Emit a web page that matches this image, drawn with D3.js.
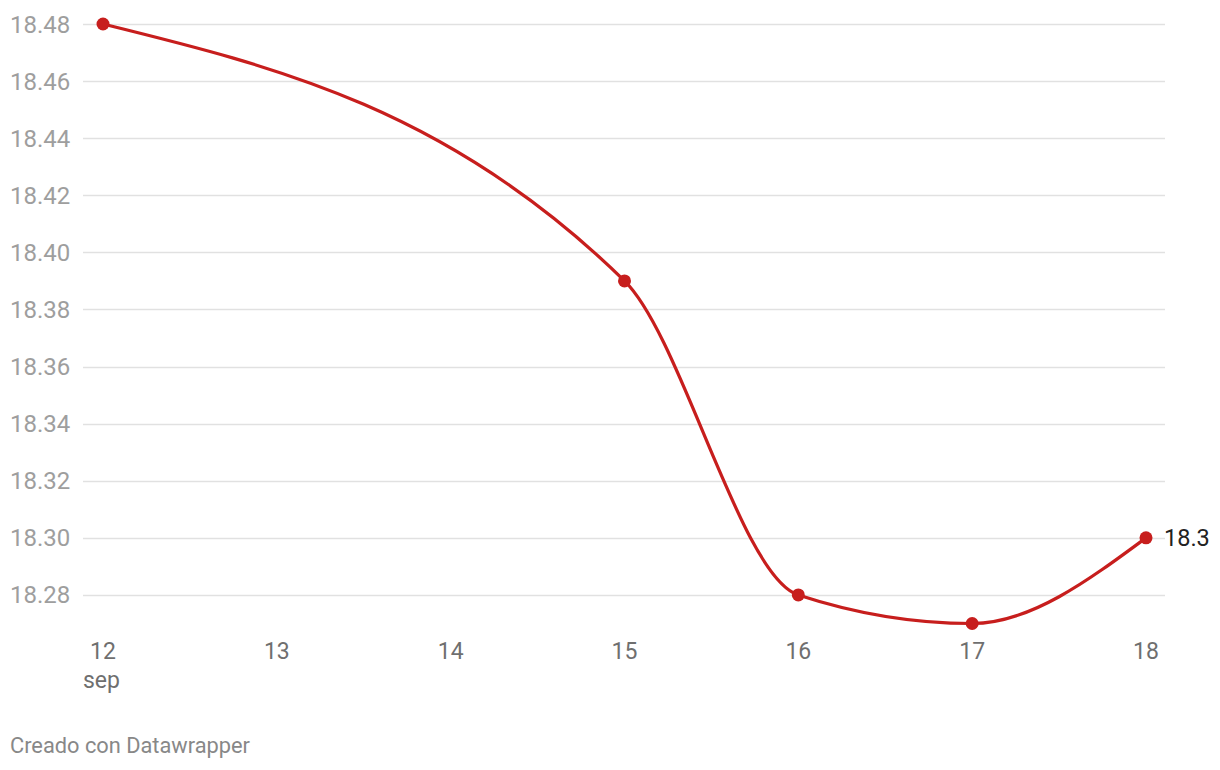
<!DOCTYPE html>
<html><head><meta charset="utf-8">
<script src="https://cdn.jsdelivr.net/npm/d3@7"></script>
<style>body{margin:0;background:#fff;font-family:Roboto,sans-serif;}</style>
</head><body><svg id="c" width="1220" height="770"></svg>
<script>
const days = [12, 15, 16, 17, 18];
const values = [18.48, 18.39, 18.28, 18.27, 18.30];
const xTicks = [12, 13, 14, 15, 16, 17, 18];
const yTicks = [18.28, 18.30, 18.32, 18.34, 18.36, 18.38, 18.40, 18.42, 18.44, 18.46, 18.48];
const monthLabel = "sep";
const lastLabel = "18.3";
const footer = "Creado con Datawrapper";

const svg = d3.select("#c");
const x = d3.scaleLinear().domain([12, 18]).range([103, 1146]);
const y = d3.scaleLinear().domain([18.27, 18.48]).range([623.5, 24]);

const g = svg.append("g");
g.selectAll("line.grid").data(yTicks).join("line")
  .attr("x1", 83).attr("x2", 1165)
  .attr("y1", d => Math.round(y(d)) + 0.5).attr("y2", d => Math.round(y(d)) + 0.5)
  .attr("stroke", "#e1e1e1").attr("stroke-width", 1.5);
g.selectAll("text.yl").data(yTicks).join("text")
  .attr("x", 10).attr("y", d => y(d) + 8.5)
  .attr("font-size", 24).attr("fill", "#9e9e9e")
  .text(d => d.toFixed(2));
g.selectAll("text.xl").data(xTicks).join("text")
  .attr("x", d => x(d)).attr("y", 658.5)
  .attr("text-anchor", "middle").attr("font-size", 23).attr("fill", "#6f6f6f")
  .text(d => d);
g.append("text").attr("x", x(12) - 20).attr("y", 687.5)
  .attr("font-size", 23).attr("fill", "#6f6f6f").text(monthLabel);

const data = days.map((d, i) => ({d, v: values[i]}));
const line = d3.line().x(p => x(p.d)).y(p => y(p.v)).curve(d3.curveMonotoneX);
g.append("path").datum(data).attr("d", line)
  .attr("fill", "none").attr("stroke", "#c71e1d").attr("stroke-width", 3.2);
g.selectAll("circle").data(data).join("circle")
  .attr("cx", p => x(p.d)).attr("cy", p => y(p.v)).attr("r", 6.5)
  .attr("fill", "#c71e1d");
g.append("text").attr("x", x(18) + 18).attr("y", y(values[values.length - 1]) + 8.5)
  .attr("font-size", 23.5).attr("fill", "#222").text(lastLabel);
g.append("text").attr("x", 10).attr("y", 753)
  .attr("font-size", 21.8).attr("fill", "#888").text(footer);
</script></body></html>
